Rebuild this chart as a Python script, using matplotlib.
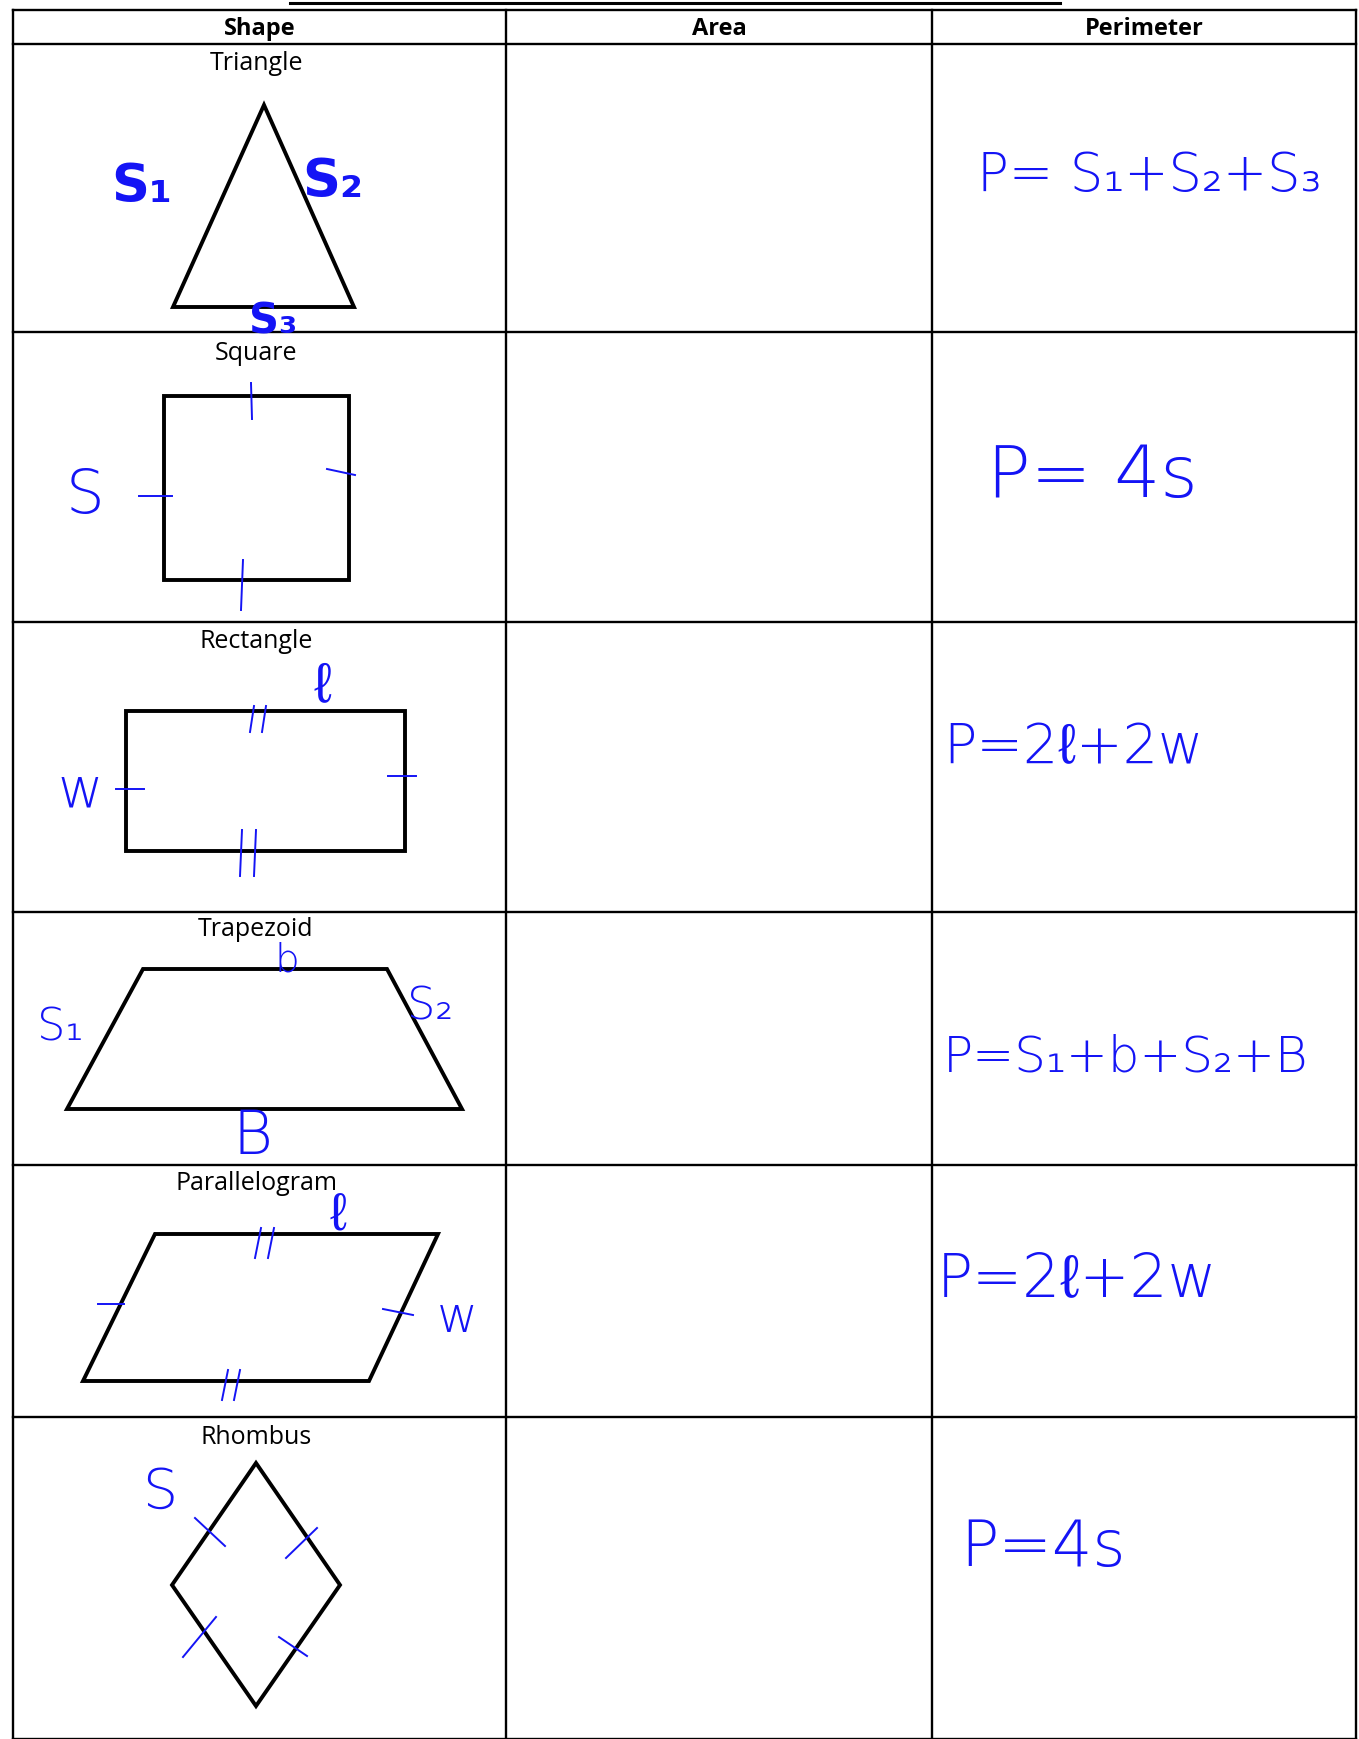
import matplotlib.pyplot as plt
from matplotlib.patches import Polygon

# page size in pixels
W, H = 1359, 1739

# table layout
headers = ["Shape", "Area", "Perimeter"]
col_edges = [13, 506, 932, 1356]
row_edges = [10, 44, 332, 622, 912, 1165, 1417, 1739]
shape_names = ["Triangle", "Square", "Rectangle", "Trapezoid", "Parallelogram", "Rhombus"]
name_y = [63, 353, 642, 929, 1184, 1437]

# handwritten perimeter formulas (text, x, y, size)
perimeter = ["P= S\u2081+S\u2082+S\u2083", "P= 4s", "P=2\u2113+2w",
             "P=S\u2081+b+S\u2082+B", "P=2\u2113+2w", "P=4s"]
perim_x = [977, 987, 943, 943, 937, 960]
perim_y = [176, 478, 748, 1057, 1280, 1548]
perim_size = [38, 52, 40, 36, 43, 46]

# shape outlines
triangle = [(264, 105), (354, 307), (173, 307)]
square = [(164, 396), (349, 396), (349, 580), (164, 580)]
rectangle = [(126, 711), (405, 711), (405, 851), (126, 851)]
trapezoid = [(143, 969), (387, 969), (462, 1109), (67, 1109)]
parallelogram = [(155, 1234), (438, 1234), (369, 1381), (83, 1381)]
rhombus = [(256, 1463), (340, 1585), (256, 1706), (172, 1585)]
outlines = [triangle, square, rectangle, trapezoid, parallelogram, rhombus]

# blue side labels (text, x, y, size, bold)
labels = [
    ("S\u2081", 142, 187, 38, True), ("S\u2082", 333, 182, 38, True), ("S\u2083", 273, 322, 30, True),
    ("S", 85, 496, 44, False),
    ("\u2113", 322, 686, 40, False), ("w", 80, 792, 40, False),
    ("b", 287, 961, 28, False), ("S\u2082", 430, 1007, 32, False),
    ("S\u2081", 60, 1028, 32, False), ("B", 252, 1137, 44, False),
    ("\u2113", 338, 1216, 38, False), ("w", 457, 1318, 36, False),
    ("S", 160, 1493, 40, False),
]

# equal-side tick marks
ticks = [
    ((251, 383), (252, 419)), ((243, 560), (241, 610)),
    ((139, 496), (172, 496)), ((327, 469), (355, 475)),
    ((250, 732), (254, 706)), ((262, 732), (266, 706)),
    ((240, 876), (242, 830)), ((254, 876), (256, 830)),
    ((116, 789), (144, 789)), ((388, 776), (416, 776)),
    ((255, 1258), (261, 1228)), ((268, 1258), (274, 1228)),
    ((222, 1400), (228, 1370)), ((234, 1400), (240, 1370)),
    ((98, 1304), (124, 1304)), ((383, 1309), (413, 1315)),
    ((195, 1518), (225, 1546)), ((286, 1558), (317, 1528)),
    ((183, 1657), (216, 1617)), ((279, 1637), (307, 1656)),
]

blue = "#1414f5"
hand = ["DejaVu Sans", "Liberation Sans", "Noto Sans"]

fig = plt.figure(figsize=(W / 100, H / 100), dpi=100)
ax = fig.add_axes([0, 0, 1, 1])
ax.set_xlim(0, W)
ax.set_ylim(H, 0)
ax.axis("off")

# grid lines
ax.plot([290, 1060], [3, 3], color="black", lw=2.2)
for y in row_edges:
    ax.plot([col_edges[0], col_edges[-1]], [y, y], color="black", lw=1.7)
for x in col_edges:
    ax.plot([x, x], [row_edges[0], row_edges[-1]], color="black", lw=1.7)

# header
for i, h in enumerate(headers):
    xc = (col_edges[i] + col_edges[i + 1]) / 2
    ax.text(xc, (row_edges[0] + row_edges[1]) / 2 + 2, h, ha="center", va="center",
            fontsize=17, fontweight="bold", family="Open Sans")

# shape column
for name, y, pts in zip(shape_names, name_y, outlines):
    ax.text(256, y, name, ha="center", va="center", fontsize=18, family="Open Sans")
    ax.add_patch(Polygon(pts, closed=True, fill=False, edgecolor="black", lw=2.8, joinstyle="miter"))

for txt, x, y, s, bold in labels:
    ax.text(x, y, txt, ha="center", va="center", fontsize=s, color=blue,
            fontweight="bold" if bold else 200, family=hand)

for (x0, y0), (x1, y1) in ticks:
    ax.plot([x0, x1], [y0, y1], color=blue, lw=1.4)

# perimeter column
for txt, x, y, s in zip(perimeter, perim_x, perim_y, perim_size):
    ax.text(x, y, txt, ha="left", va="center", fontsize=s, color=blue,
            fontweight=200, family=hand)

fig.savefig("out.png", dpi=100, facecolor="white")
